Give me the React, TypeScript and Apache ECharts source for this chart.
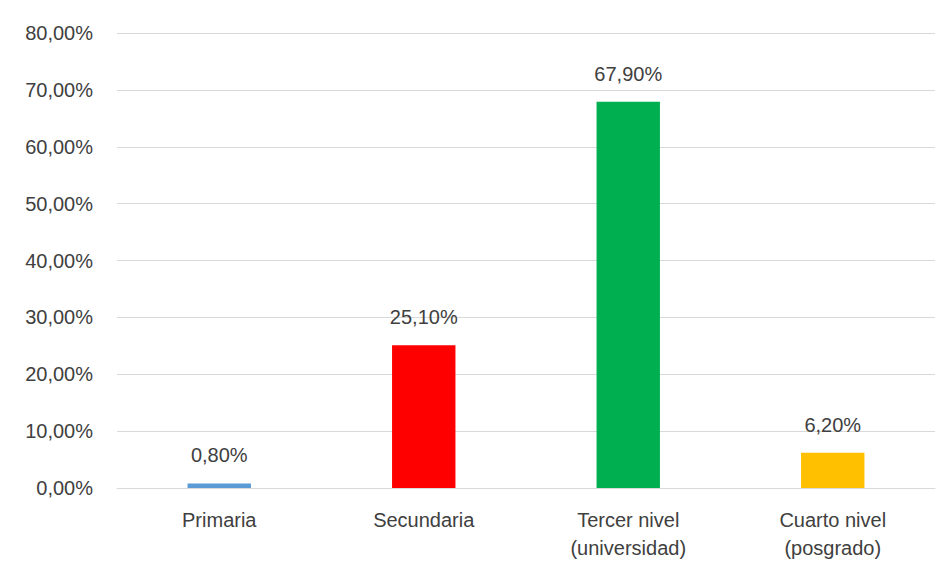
import React, { useEffect, useRef } from "react";
import * as echarts from "echarts";

const categories = ["Primaria", "Secundaria", "Tercer nivel\n(universidad)", "Cuarto nivel\n(posgrado)"];
const values = [0.8, 25.1, 67.9, 6.2];
const colors = ["#5B9BD5", "#FF0000", "#00B050", "#FFC000"];
const yTicks = [0, 10, 20, 30, 40, 50, 60, 70, 80];

const fmt = (v: number) => v.toFixed(2).replace(".", ",") + "%";

export default function App() {
  const ref = useRef<HTMLDivElement>(null);
  useEffect(() => {
    if (!ref.current) return;
    const chart = echarts.init(ref.current, undefined, { renderer: "svg" });
    const font = "'Liberation Sans', Arial, sans-serif";
    chart.setOption({
      animation: false,
      grid: { left: 109, right: 9, top: 25, bottom: 82 },
      xAxis: {
        type: "category",
        data: categories,
        axisLine: { lineStyle: { color: "#D9D9D9" } },
        axisTick: { show: false },
        axisLabel: { color: "#404040", fontSize: 20, fontFamily: font, lineHeight: 28, margin: 18 },
      },
      yAxis: {
        type: "value",
        min: yTicks[0],
        max: yTicks[yTicks.length - 1],
        interval: 10,
        axisLine: { show: false },
        axisTick: { show: false },
        splitLine: { lineStyle: { color: "#D9D9D9", width: 1 } },
        axisLabel: { color: "#404040", fontSize: 20, fontFamily: font, margin: 24, formatter: (v: number) => fmt(v) },
      },
      series: [
        {
          type: "bar",
          barWidth: "31%",
          data: values.map((v, i) => ({ value: v, itemStyle: { color: colors[i] } })),
          label: {
            show: true,
            position: "top",
            distance: 18,
            color: "#404040",
            fontSize: 20,
            fontFamily: font,
            formatter: (p: any) => fmt(p.value),
          },
        },
      ],
    });
    return () => chart.dispose();
  }, []);
  return <div ref={ref} style={{ width: 936, height: 562 }} />;
}
